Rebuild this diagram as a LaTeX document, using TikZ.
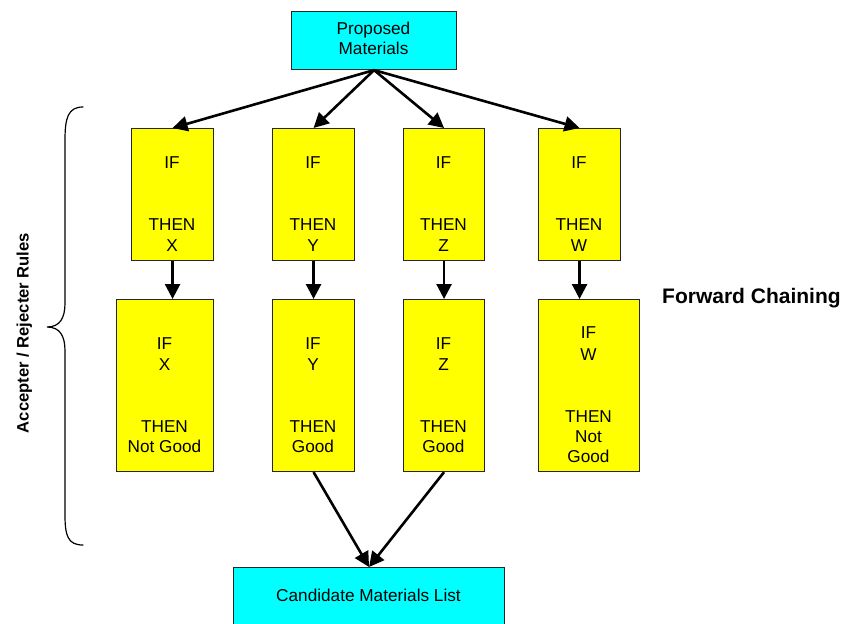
\documentclass[tikz,border=0pt]{standalone}
\usepackage{fontspec}
\setmainfont{Liberation Sans}
\usetikzlibrary{arrows.meta}
\definecolor{boxcyan}{HTML}{00FFFF}
\definecolor{boxyellow}{HTML}{FFFF00}
\begin{document}
\begin{tikzpicture}[x=1pt,y=-1pt,
  rulebox/.style={draw=black!85, line width=1.1pt, fill=boxyellow, inner sep=0pt, anchor=north west},
  endbox/.style={draw=black!85, line width=1.1pt, fill=boxcyan, inner sep=0pt, anchor=north west},
  txt/.style={inner sep=0pt, anchor=base, font=\fontsize{17.2}{21}\selectfont},
  arr/.style={line width=2.6pt, -{Triangle[length=15pt,width=15pt]}},
  bracepath/.style={line width=1.2pt, line cap=round}
]
\useasboundingbox (0,0) rectangle (858,623);

% start and end boxes
\node[endbox, minimum width=165pt, minimum height=58pt] (top) at (291,11) {};
\node[txt] (topa) at (373.5,35) {Proposed};
\node[txt] (topb) at (373.5,55) {Materials};

\node[endbox, minimum width=271pt, minimum height=62pt] (bot) at (233,567) {};
\node[txt] (bottxt) at (368.5,601) {Candidate Materials List};

% first rule layer
\node[rulebox, minimum width=82pt, minimum height=132pt] (u1) at (131,128) {};
\node[rulebox, minimum width=82pt, minimum height=132pt] (u2) at (272,128) {};
\node[rulebox, minimum width=81pt, minimum height=132pt] (u3) at (403,128) {};
\node[rulebox, minimum width=82pt, minimum height=132pt] (u4) at (538,128) {};

\foreach \n/\x/\v in {1/172/X, 2/313/Y, 3/443.5/Z, 4/579/W} {
  \node[txt] (uif\n) at (\x,168) {IF};
  \node[txt] (uthen\n) at (\x,230) {THEN};
  \node[txt] (uvar\n) at (\x,251) {\v};
}

% second rule layer
\node[rulebox, minimum width=97pt, minimum height=172pt] (l1) at (116,299) {};
\node[rulebox, minimum width=82pt, minimum height=172pt] (l2) at (272,299) {};
\node[rulebox, minimum width=81pt, minimum height=172pt] (l3) at (403,299) {};
\node[rulebox, minimum width=101pt, minimum height=172pt] (l4) at (538,299) {};

\foreach \n/\x/\v/\r in {1/164.5/X/Not Good, 2/313/Y/Good, 3/443.5/Z/Good} {
  \node[txt] (lif\n) at (\x,349) {IF};
  \node[txt] (lvar\n) at (\x,370) {\v};
  \node[txt] (lthen\n) at (\x,432) {THEN};
  \node[txt] (lres\n) at (\x,452) {\r};
}
\node[txt] (lif4) at (588.5,338) {IF};
\node[txt] (lvar4) at (588.5,360) {W};
\node[txt] (lthen4) at (588.5,422) {THEN};
\node[txt] (lres4a) at (588.5,442) {Not};
\node[txt] (lres4b) at (588.5,462) {Good};

% connectors
\foreach \n in {1,2,3,4} {
  \draw[arr] (top.south) -- (u\n.north);
  \draw[arr] (u\n.south) -- (u\n.south |- l\n.north);
}
\draw[arr] (l2.south) -- (bot.north);
\draw[arr] (l3.south) -- (bot.north);

% brace grouping the rule layers
\draw[bracepath] (83,107) .. controls (68,107) and (65,118) .. (65,140)
  -- (65,303) .. controls (65,318) and (60,327) .. (47,327)
  .. controls (60,327) and (65,336) .. (65,351)
  -- (65,515) .. controls (65,536) and (68,545) .. (83,545);

\node[rotate=90, inner sep=0pt, anchor=base, font=\fontsize{16.6}{20}\selectfont\bfseries] (rules) at (28.5,333) {Accepter / Rejecter Rules};
\node[inner sep=0pt, anchor=base west, font=\fontsize{21}{25}\selectfont\bfseries] (chain) at (662,303) {Forward Chaining};
\end{tikzpicture}
\end{document}
